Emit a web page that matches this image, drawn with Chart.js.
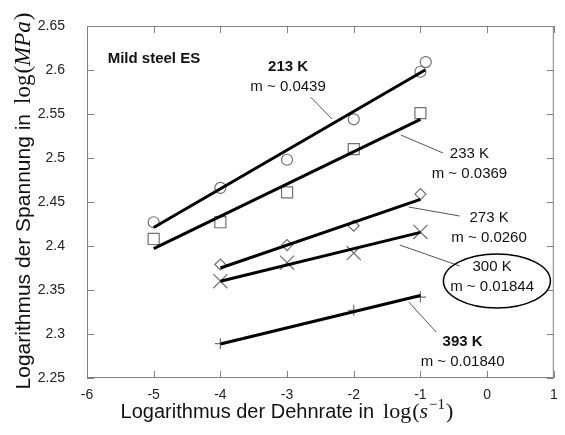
<!DOCTYPE html>
<html>
<head>
<meta charset="utf-8">
<script src="https://cdn.jsdelivr.net/npm/chart.js@4/dist/chart.umd.min.js"></script>
<style>
  html, body { margin: 0; padding: 0; background: #fff; }
</style>
</head>
<body>
<div style="width:565px;height:435px"><canvas id="chart" width="565" height="435"></canvas></div>
<script>
// tick labels
const xTicks = [-6, -5, -4, -3, -2, -1, 0, 1];
const yTicks = [2.25, 2.3, 2.35, 2.4, 2.45, 2.5, 2.55, 2.6, 2.65];

// measured points, log strain rate vs log stress
const rates213 = [-5, -4, -3, -2, -1, -0.92];
const stress213 = [2.427, 2.466, 2.498, 2.544, 2.598, 2.609];
const rates233 = [-5, -4, -3, -2, -1];
const stress233 = [2.408, 2.427, 2.461, 2.510, 2.551];
const rates273 = [-4, -3, -2, -1];
const stress273 = [2.379, 2.401, 2.423, 2.459];
const rates300 = [-4, -3, -2, -1];
const stress300 = [2.360, 2.381, 2.392, 2.416];
const rates393 = [-4, -2, -1];
const stress393 = [2.289, 2.327, 2.342];

// fitted lines (end points)
const fitX213 = [-5, -0.93], fitY213 = [2.421, 2.600];
const fitX233 = [-5, -1], fitY233 = [2.397, 2.544];
const fitX273 = [-4, -1], fitY273 = [2.375, 2.453];
const fitX300 = [-4, -1], fitY300 = [2.360, 2.4155];
const fitX393 = [-4, -1], fitY393 = [2.2886, 2.3438];

const tempLabels = ['213 K', '233 K', '273 K', '300 K', '393 K'];
const slopeLabels = ['m ~ 0.0439', 'm ~ 0.0369', 'm ~ 0.0260', 'm ~ 0.01844', 'm ~ 0.01840'];

function pts(xs, ys) {
    return xs.map((x, i) => ({x: x, y: ys[i]}));
}

const markerColor = '#707070';

function markerSet(xs, ys, style, radius) {
    return {
        type: 'scatter',
        data: pts(xs, ys),
        pointStyle: style,
        pointRadius: radius,
        pointBorderColor: markerColor,
        pointBackgroundColor: 'rgba(255,255,255,0)',
        pointBorderWidth: 1.2,
        showLine: false,
        order: 2
    };
}

function fitSet(xs, ys) {
    return {
        type: 'line',
        data: pts(xs, ys),
        borderColor: '#000',
        borderWidth: 3,
        pointRadius: 0,
        fill: false,
        order: 1
    };
}

// annotation layout, in data units
const notes = [
    {x: -2.985, y: 2.6034, bold: true, lead: [-2.647, 2.5693, -2.324, 2.5443]},
    {x: -0.265, y: 2.5045, bold: false, lead: [-1.294, 2.5261, -0.662, 2.5057]},
    {x: 0.029, y: 2.4318, bold: false, lead: [-1.176, 2.4443, -0.412, 2.4341]},
    {x: 0.075, y: 2.3762, bold: false, lead: [-1.309, 2.4011, -0.412, 2.3773]},
    {x: -0.368, y: 2.2909, bold: true, lead: [-1.176, 2.3364, -0.765, 2.3023]}
];

function drawPieces(ctx, pieces, cx, cy) {
    let total = 0;
    pieces.forEach(p => { ctx.font = p.font; p.w = ctx.measureText(p.t).width; total += p.w + (p.gap || 0); });
    let x = cx - total / 2;
    ctx.textAlign = 'left';
    ctx.textBaseline = 'alphabetic';
    pieces.forEach(p => {
        x += (p.gap || 0);
        ctx.font = p.font;
        ctx.fillText(p.t, x, cy + (p.dy || 0));
        x += p.w;
    });
}

const decorPlugin = {
    id: 'decor',
    beforeDatasetsDraw(chart) {
        const {ctx, chartArea: a, scales} = chart;
        ctx.save();
        ctx.strokeStyle = '#808080';
        ctx.lineWidth = 1;
        ctx.strokeRect(a.left + 0.5, a.top + 0.5, a.right - a.left - 1, a.bottom - a.top - 1);
        ctx.beginPath();
        xTicks.forEach(v => {
            const px = Math.round(scales.x.getPixelForValue(v)) + 0.5;
            ctx.moveTo(px, a.bottom); ctx.lineTo(px, a.bottom - 7);
            ctx.moveTo(px, a.top); ctx.lineTo(px, a.top + 7);
        });
        yTicks.forEach(v => {
            const py = Math.round(scales.y.getPixelForValue(v)) + 0.5;
            ctx.moveTo(a.left, py); ctx.lineTo(a.left + 7, py);
            ctx.moveTo(a.right, py); ctx.lineTo(a.right - 7, py);
        });
        ctx.stroke();
        ctx.restore();
    },
    afterDraw(chart) {
        const {ctx, scales} = chart;
        const X = v => scales.x.getPixelForValue(v);
        const Y = v => scales.y.getPixelForValue(v);
        ctx.save();
        ctx.fillStyle = '#111';

        // axis titles
        const serif = '"Liberation Serif", "DejaVu Serif", serif';
        drawPieces(ctx, [
            {t: 'Logarithmus der Dehnrate in', font: '20px Arial, "Liberation Sans", sans-serif'},
            {t: 'log', font: '22px ' + serif, gap: 9},
            {t: '(', font: '22px ' + serif, gap: 1},
            {t: 's', font: 'italic 22px ' + serif},
            {t: '\u22121', font: '15px ' + serif, dy: -9, gap: 1},
            {t: ')', font: '22px ' + serif, gap: 1}
        ], 287, 418);

        ctx.save();
        ctx.translate(30, 201);
        ctx.rotate(-Math.PI / 2);
        drawPieces(ctx, [
            {t: 'Logarithmus der Spannung in', font: '21px Arial, "Liberation Sans", sans-serif'},
            {t: 'log', font: '23px ' + serif, gap: 10},
            {t: '(', font: '23px ' + serif, gap: 1},
            {t: 'MPa', font: 'italic 23px ' + serif},
            {t: ')', font: '23px ' + serif, gap: 1}
        ], 0, 0);
        ctx.restore();

        // material label
        ctx.font = 'bold 15px Arial, "Liberation Sans", sans-serif';
        ctx.textAlign = 'left';
        ctx.textBaseline = 'middle';
        ctx.fillText('Mild steel ES', X(-5.69), Y(2.6125));

        // leader lines
        ctx.strokeStyle = '#555';
        ctx.lineWidth = 1;
        ctx.beginPath();
        notes.forEach(n => {
            ctx.moveTo(X(n.lead[0]), Y(n.lead[1]));
            ctx.lineTo(X(n.lead[2]), Y(n.lead[3]));
        });
        ctx.stroke();

        // temperature and slope labels
        ctx.textAlign = 'center';
        notes.forEach((n, i) => {
            const cx = X(n.x), cy = Y(n.y);
            ctx.font = (n.bold ? 'bold ' : '') + '15px Arial, "Liberation Sans", sans-serif';
            ctx.fillText(tempLabels[i], cx, cy);
            ctx.font = '15px Arial, "Liberation Sans", sans-serif';
            ctx.fillText(slopeLabels[i], cx, cy + 20);
        });

        // ellipse around 300 K
        ctx.strokeStyle = '#000';
        ctx.lineWidth = 1.5;
        ctx.beginPath();
        ctx.ellipse(X(0.147), Y(2.3602), 53.5, 27, 0, 0, Math.PI * 2);
        ctx.stroke();
        ctx.restore();
    }
};

const ctx = document.getElementById('chart').getContext('2d');
new Chart(ctx, {
    data: {
        datasets: [
            fitSet(fitX213, fitY213),
            fitSet(fitX233, fitY233),
            fitSet(fitX273, fitY273),
            fitSet(fitX300, fitY300),
            fitSet(fitX393, fitY393),
            markerSet(rates213, stress213, 'circle', 5.5),
            markerSet(rates233, stress233, 'rect', 7.8),
            markerSet(rates273, stress273, 'rectRot', 5.5),
            markerSet(rates300, stress300, 'crossRot', 10),
            markerSet(rates393, stress393, 'cross', 5.5)
        ]
    },
    options: {
        responsive: false,
        devicePixelRatio: 1,
        animation: false,
        layout: { padding: { left: 0, top: 26, right: 2, bottom: 0 } },
        plugins: {
            legend: { display: false },
            tooltip: { enabled: false }
        },
        scales: {
            x: {
                type: 'linear',
                min: -6,
                max: 1,
                afterBuildTicks: s => { s.ticks = xTicks.map(v => ({value: v})); },
                afterFit: s => { s.height = 57; },
                grid: { display: false },
                border: { display: false },
                ticks: {
                    padding: 1,
                    color: '#222',
                    font: { size: 14, family: 'Arial, "Liberation Sans", sans-serif' },
                    callback: v => String(v)
                }
            },
            y: {
                type: 'linear',
                min: 2.25,
                max: 2.65,
                afterBuildTicks: s => { s.ticks = yTicks.map(v => ({value: v})); },
                afterFit: s => { s.width = 87; },
                grid: { display: false },
                border: { display: false },
                ticks: {
                    padding: 14,
                    color: '#222',
                    font: { size: 14, family: 'Arial, "Liberation Sans", sans-serif' },
                    callback: v => String(+v.toFixed(2))
                }
            }
        }
    },
    plugins: [decorPlugin]
});
</script>
</body>
</html>
